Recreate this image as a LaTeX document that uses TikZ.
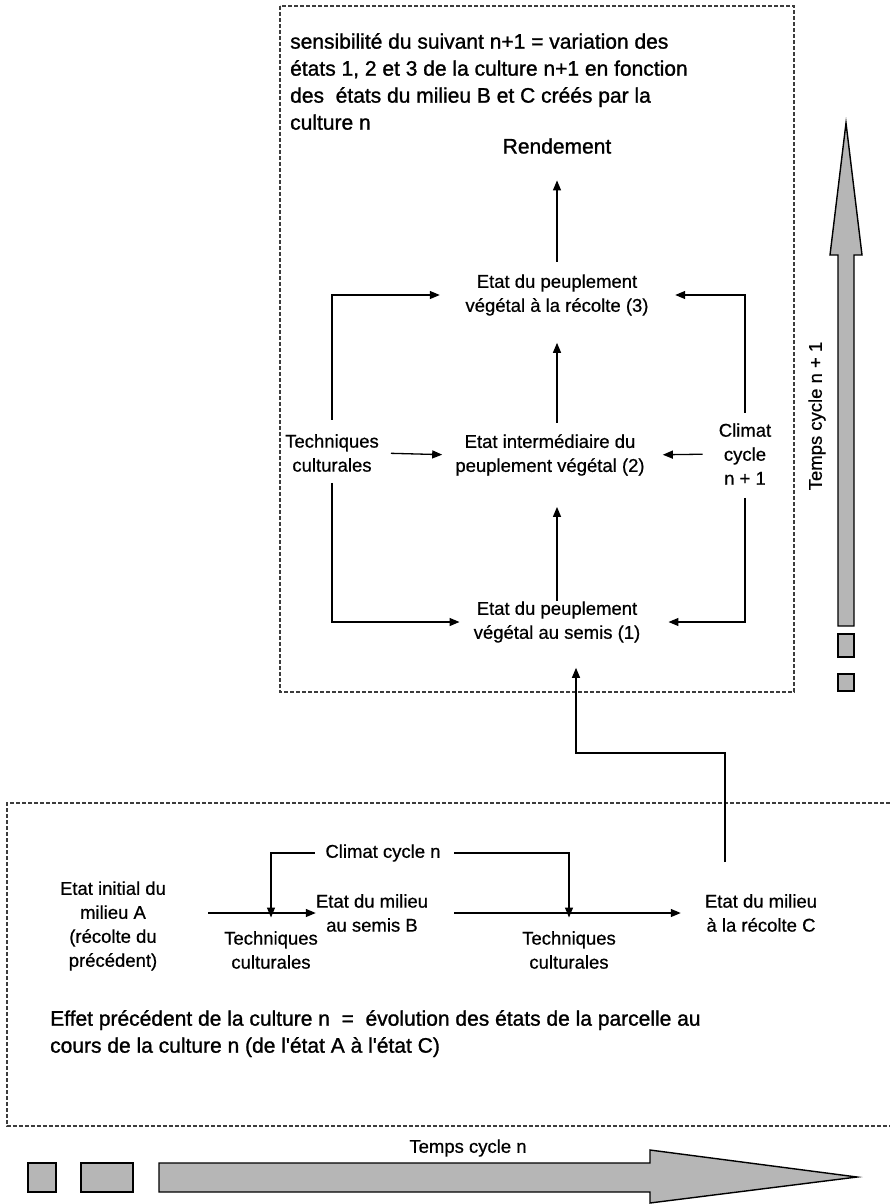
\documentclass[tikz,border=0pt]{standalone}
\usepackage{fontspec}
\setmainfont{Liberation Sans}[FakeBold=0.6]
\newfontfamily\descfont{Liberation Sans}[FakeBold=1.2]
\usetikzlibrary{arrows.meta}
\definecolor{frameGray}{HTML}{3C3C3C}
\definecolor{timeGray}{HTML}{B6B6B6}

\begin{document}
\begin{tikzpicture}[x=1pt, y=-1pt,
    txt/.style={inner sep=0pt, align=center, font=\fontsize{18.5}{24}\selectfont},
    desc/.style={inner sep=0pt, align=left, anchor=north west, font=\descfont\fontsize{21}{27}\selectfont},
    arr/.style={-{Triangle[length=10pt,width=8pt]}, line width=1.3pt},
    frame/.style={draw=frameGray, line width=1.6pt, dash pattern=on 4pt off 2pt},
    timearrow/.style={draw=black, fill=timeGray, line width=1.4pt}]
  \useasboundingbox (0,0) rectangle (890,1204);
  % Frames
  \draw[frame] (280,6) rectangle (794,692);
  \draw[frame] (890,803) -- (7,803) -- (7,1126) -- (890,1126);
  % Cycle n+1
  \node[desc] (sens) at (290,33) {sensibilité du suivant n+1 = variation des\\états 1, 2 et 3 de la culture n+1 en fonction\\des\ \ états du milieu B et C créés par la\\culture n};
  \node[txt, font=\descfont\fontsize{21}{27}\selectfont] (rend) at (557,146) {Rendement};
  \node[txt] (rec) at (557,295) {Etat du peuplement\\végétal à la récolte (3)};
  \node[txt] (inter) at (550,455) {Etat intermédiaire du\\peuplement végétal (2)};
  \node[txt] (semis) at (557,622) {Etat du peuplement\\végétal au semis (1)};
  \node[txt] (tech) at (332,453) {Techniques\\culturales};
  \node[txt] (clim) at (745,454) {Climat\\cycle\\n + 1};
  \draw[arr, shorten <=12.5pt, shorten >=26.5pt] (rec.north) -- (rec.north |- rend.south);
  \draw[arr, shorten <=11.5pt, shorten >=27pt] (inter.north -| rec.north) -- (rec.south);
  \draw[arr, shorten >=31pt] (semis.north) -- (semis.north |- inter.south);
  \draw[arr, shorten <=14.5pt, shorten >=25.5pt] (tech.north) |- (rec.west);
  \draw[arr, shorten <=11pt, shorten >=14pt] (tech.south) |- (semis.west);
  \draw[arr, shorten <=12pt, shorten >=13pt] (tech.east) -- (inter.west);
  \draw[arr, shorten <=10.5pt, shorten >=26.5pt] (clim.north) |- (rec.east);
  \draw[arr, shorten <=13pt, shorten >=28pt] (clim.south) |- (semis.east);
  \draw[arr, shorten <=16pt, shorten >=18pt] (clim.west) -- (inter.east);
  % Cycle n
  \node[txt] (climn) at (383,853) {Climat cycle n};
  \node[txt] (etatA) at (113,926) {Etat initial du\\milieu A\\(récolte du\\précédent)};
  \node[txt] (etatB) at (372,913) {Etat du milieu\\au semis B};
  \node[txt] (etatC) at (761,913) {Etat du milieu\\à la récolte C};
  \node[txt] (tech1) at (271,950) {Techniques\\culturales};
  \node[txt] (tech2) at (569,950) {Techniques\\culturales};
  \draw[arr, shorten <=42pt] (etatA.east |- etatB.west) -- (etatB.west);
  \draw[arr, shorten <=26pt, shorten >=24pt] (etatB.east) -- (etatC.west |- etatB.east);
  \draw[arr, shorten <=10.5pt, shorten >=13.5pt] (climn.west) -| (tech1.north);
  \draw[arr, shorten <=13.5pt, shorten >=13.5pt] (climn.east) -| (tech2.north);
  \node[desc] (effet) at (50,1010) {Effet précédent de la culture n\ \ =\ \ évolution des états de la parcelle au\\cours de la culture n (de l'état A à l'état C)};
  % Link C -> (1)
  \coordinate (cup) at (725,753);
  \coordinate (cin) at (576,753);
  \draw[arr, shorten <=32pt, shorten >=25pt] (etatC.north -| cup) -- (cup) -- (cin) -- (cin |- semis.south);
  % Time arrows
  \draw[timearrow] (838,626) -- (838,255) -- (830,255) -- (846,123) -- (862,255) -- (854,255) -- (854,626) -- cycle;
  \draw[timearrow] (838,634) rectangle (854,657);
  \draw[timearrow] (838,674) rectangle (854,691);
  \node[txt, rotate=90] (tempsB) at (817,416) {Temps cycle n + 1};
  \draw[timearrow] (159,1163) -- (650,1163) -- (650,1150) -- (857,1177) -- (650,1203) -- (650,1192) -- (159,1192) -- cycle;
  \draw[timearrow] (28,1163) rectangle (56,1192);
  \draw[timearrow] (81,1163) rectangle (133,1192);
  \node[txt] (tempsA) at (468,1148) {Temps cycle n};
\end{tikzpicture}
\end{document}
